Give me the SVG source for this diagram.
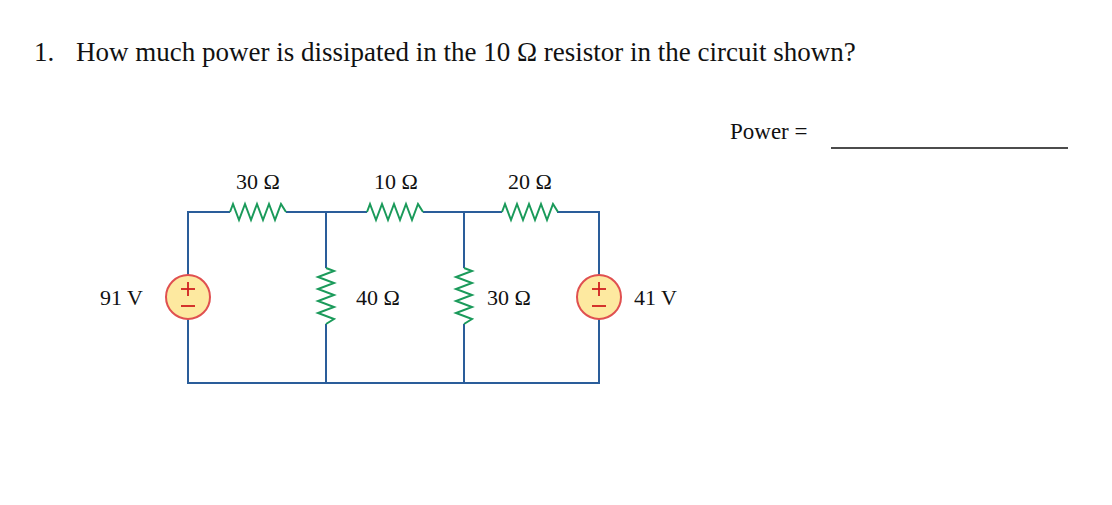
<svg xmlns="http://www.w3.org/2000/svg" width="1112" height="505" viewBox="0 0 1112 505">
<defs>
<style>
.t{font-family:"Liberation Serif",serif;fill:#111}
.w{fill:none;stroke:#2a5d9a;stroke-width:2}
.r{fill:none;stroke:#1a9a5a;stroke-width:2;stroke-linejoin:miter}
.src{fill:#fde9a0;stroke:#e05050;stroke-width:2}
.m{stroke:#d02020;stroke-width:1.8}
</style>
<path id="hr" d="M0 0 L3 -8 L9 8 L15 -8 L21 8 L27 -8 L33 8 L39 -8 L45 8 L51 -8 L56 0"/>
<path id="vr" d="M0 0 L8 3 L-8 9 L8 15 L-8 21 L8 27 L-8 33 L8 39 L-8 45 L8 51 L0 56"/>
</defs>
<rect width="1112" height="505" fill="#fff"/>
<text class="t" x="34" y="61" font-size="27">1.</text>
<text class="t" x="76" y="61" font-size="27">How much power is dissipated in the 10 Ω resistor in the circuit shown?</text>
<text class="t" x="730" y="139" font-size="23">Power =</text>
<line x1="831" y1="148" x2="1068" y2="148" stroke="#111" stroke-width="1.5"/>
<g id="connectors">
<path class="w" d="M188 275 V212 H230 M286 212 H367 M423 212 H502 M557 212 H599 V275 M599 319 V383 H188 V319 M326 212 V268 M326 324 V383 M464 212 V268 M464 324 V383"/>
</g>
<g id="R30a"><use href="#hr" class="r" x="230" y="212"/><text class="t" x="258" y="189" font-size="22" text-anchor="middle">30 Ω</text></g>
<g id="R10"><use href="#hr" class="r" x="367" y="212"/><text class="t" x="396" y="189" font-size="22" text-anchor="middle">10 Ω</text></g>
<g id="R20"><use href="#hr" class="r" x="502" y="212"/><text class="t" x="530" y="189" font-size="22" text-anchor="middle">20 Ω</text></g>
<g id="R40"><use href="#vr" class="r" x="326" y="268"/><text class="t" x="356" y="305" font-size="22">40 Ω</text></g>
<g id="R30b"><use href="#vr" class="r" x="464" y="268"/><text class="t" x="487" y="305" font-size="22">30 Ω</text></g>
<g id="V91"><circle class="src" cx="188" cy="297" r="22"/><line class="m" x1="181" y1="289" x2="195" y2="289"/><line class="m" x1="188" y1="282" x2="188" y2="296"/><line class="m" x1="181" y1="306" x2="195" y2="306"/><text class="t" x="100" y="305" font-size="22">91 V</text></g>
<g id="V41"><circle class="src" cx="599" cy="297" r="22"/><line class="m" x1="592" y1="289" x2="606" y2="289"/><line class="m" x1="599" y1="282" x2="599" y2="296"/><line class="m" x1="592" y1="306" x2="606" y2="306"/><text class="t" x="634" y="305" font-size="22">41 V</text></g>
</svg>
